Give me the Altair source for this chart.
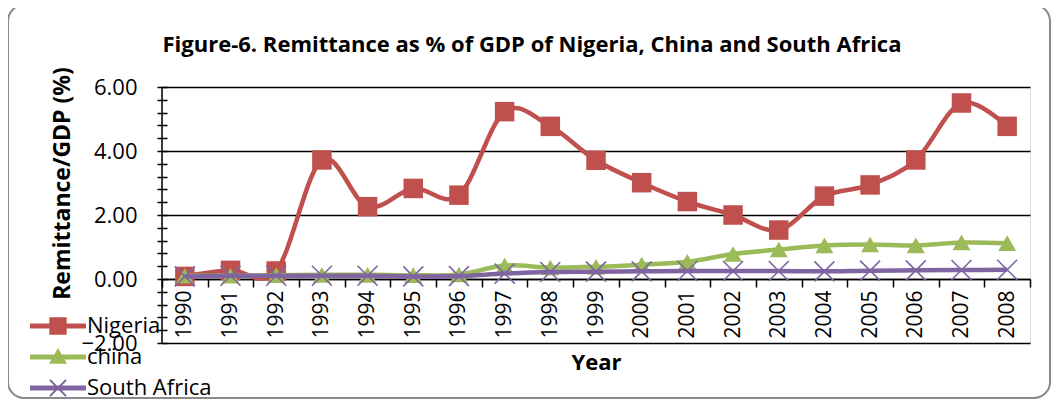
import altair as alt
import pandas as pd

years = [str(y) for y in range(1990, 2009)]
nigeria = [0.08, 0.27, 0.25, 3.72, 2.26, 2.83, 2.62, 5.23, 4.77, 3.71, 3.01, 2.42, 2.00, 1.53, 2.59, 2.94, 3.72, 5.50, 4.77]
china = [0.10, 0.10, 0.12, 0.13, 0.13, 0.12, 0.14, 0.42, 0.36, 0.38, 0.45, 0.54, 0.78, 0.92, 1.05, 1.08, 1.05, 1.14, 1.12]
south_africa = [0.08, 0.10, 0.10, 0.10, 0.10, 0.08, 0.09, 0.17, 0.22, 0.23, 0.24, 0.25, 0.25, 0.25, 0.24, 0.26, 0.27, 0.28, 0.29]
series_names = ["Nigeria", "china", "South Africa"]
colors = ["#C0504D", "#9BBB59", "#8064A2"]
y_ticks = [-2.0, -1.6, -1.2, -0.8, -0.4, 0.0, 0.4, 0.8, 1.2, 1.6, 2.0, 2.4, 2.8, 3.2, 3.6, 4.0,
           4.4, 4.8, 5.2, 5.6, 6.0]

rows = []
for name, vals in zip(series_names, [nigeria, china, south_africa]):
    for yr, v in zip(years, vals):
        rows.append({"year": yr, "value": v, "series": name})
df = pd.DataFrame(rows)

FONT = "Open Sans"

x_scale = alt.Scale(type="band", domain=years, paddingInner=0, paddingOuter=0)
x_axis = alt.Axis(
    title="Year", orient="bottom", offset=-64,
    domainColor="black", domainWidth=1.5,
    tickColor="black", tickWidth=1.5, tickSize=8, tickBand="extent",
    labelAngle=270, labelFont=FONT, labelFontSize=21, labelColor="black",
    labelPadding=3, labelOverlap=False, labelBound=False,
    titleFont=FONT, titleFontSize=22, titleFontWeight="bold", titleColor="black",
    titleY=83, titleBaseline="middle", grid=False,
)
x_enc = alt.X("year:O", bandPosition=0.5, scale=x_scale, axis=x_axis)

y_scale = alt.Scale(domain=[-2, 6], nice=False, zero=False)
y_axis = alt.Axis(
    title="Remittance/GDP (%)", values=y_ticks, offset=-5, domain=False,
    tickColor="black", tickWidth=1.5, tickSize=10,
    grid=True, gridColor="black", gridWidth=1.5,
    gridOpacity={"condition": {"test": "abs(datum.value % 2) > 0.01", "value": 0}, "value": 1},
    labelExpr="abs(datum.value % 2) < 0.01 ? format(datum.value, '.2f') : ''",
    labelFont=FONT, labelFontSize=22, labelColor="black", labelPadding=20,
    titleFont=FONT, titleFontSize=23, titleFontWeight="bold", titleColor="black",
    titleX=-105, titleY=96, titleBaseline="middle",
)
y_enc = alt.Y("value:Q", scale=y_scale, axis=y_axis)

base = alt.Chart(df)

marker_specs = [
    dict(shape="square", size=380, filled=True, strokeWidth=0),
    dict(shape="triangle-up", size=324, filled=True, strokeWidth=0),
    dict(shape="M-1,-1L1,1M-1,1L1,-1", size=400, filled=False, strokeWidth=1.6),
]

layers = []

frame = alt.Chart(alt.Data(values=[{"a": 1}])).mark_rect(
    fillOpacity=0, stroke="#8a8a8a", strokeWidth=2, cornerRadius=16
).encode(x=alt.value(-154), x2=alt.value(888), y=alt.value(-82), y2=alt.value(311))
layers.append(frame)

yaxis_line = alt.Chart(alt.Data(values=[{"a": 1}])).mark_rule(color="black", strokeWidth=1.5).encode(
    x=alt.value(0), y=alt.YDatum(-2, scale=y_scale, axis=y_axis), y2=alt.Y2Datum(6)
)

for name, col, spec in zip(series_names, colors, marker_specs):
    sub = base.transform_filter(alt.datum.series == name)
    line = sub.mark_line(color=col, strokeWidth=4.5, interpolate="cardinal").encode(x=x_enc, y=y_enc)
    pts = sub.mark_point(color=col, opacity=1, **spec).encode(x=x_enc, y=y_enc)
    layers += [line, pts]

layers.append(yaxis_line)

# legend symbol paths: a thick line with the series marker, unit = 15px
k = 28.0 / 15.0
def P(x, y):
    return f"{x * k:.4f},{y * k:.4f}"

a = 0.29
d = 0.026
legend_paths = [
    f"M{P(-1,-0.09)}L{P(1,-0.09)}L{P(1,0.09)}L{P(-1,0.09)}Z "
    f"M{P(-0.31,-0.31)}L{P(0.31,-0.31)}L{P(0.31,0.31)}L{P(-0.31,0.31)}Z",
    f"M{P(-1,-0.09)}L{P(1,-0.09)}L{P(1,0.09)}L{P(-1,0.09)}Z "
    f"M{P(0,-0.32)}L{P(0.32,0.24)}L{P(-0.32,0.24)}Z",
    f"M{P(-1,-0.09)}L{P(1,-0.09)}L{P(1,0.09)}L{P(-1,0.09)}Z "
    f"M{P(-a+d,-a-d)}L{P(a+d,a-d)}L{P(a-d,a+d)}L{P(-a-d,-a+d)}Z "
    f"M{P(-a-d,a-d)}L{P(a-d,-a-d)}L{P(a+d,-a+d)}L{P(-a+d,a+d)}Z",
]

leg = alt.Legend(
    title=None, orient="none", legendX=-119, legendY=224,
    symbolSize=900, symbolStrokeWidth=0, symbolOpacity=1,
    labelFont=FONT, labelFontSize=22, labelColor="black", labelOffset=14,
    padding=0, rowPadding=5,
)
legend_layer = base.transform_filter("false").mark_point(filled=True, opacity=1).encode(
    x=x_enc, y=y_enc,
    color=alt.Color("series:N", scale=alt.Scale(domain=series_names, range=colors), legend=leg),
    shape=alt.Shape("series:N", scale=alt.Scale(domain=series_names, range=legend_paths), legend=leg),
)
layers.append(legend_layer)

chart = alt.layer(*layers).properties(
    width=868, height=256,
    autosize=alt.AutoSizeParams(type="none"),
    padding={"left": 154, "top": 79, "right": 21, "bottom": 56},
    title=alt.Title(
        "Figure-6. Remittance as % of GDP of Nigeria, China and South Africa",
        font=FONT, fontSize=22, fontWeight="bold", color="black",
        anchor="middle", frame="group", dx=-64, offset=-63, baseline="middle",
    ),
).configure_view(stroke=None).configure(background="white")

chart.save("out.html", embed_options={"renderer": "svg", "actions": False})
